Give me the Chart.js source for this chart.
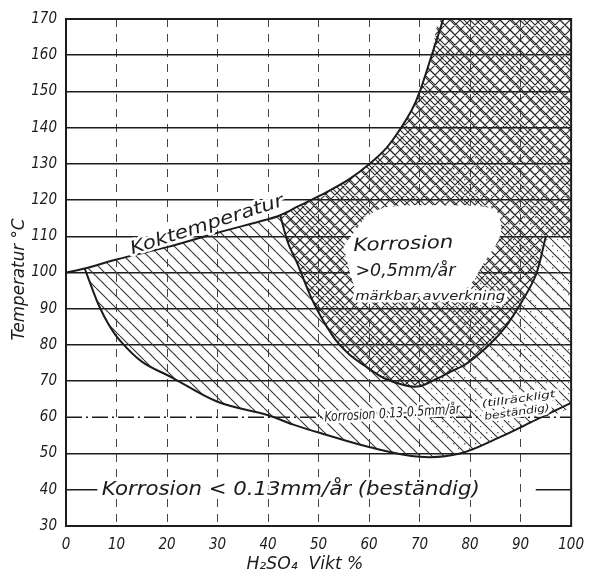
<!DOCTYPE html>
<html lang="sv">
<head>
<meta charset="UTF-8">
<title>Korrosion i svavelsyra</title>
<script src="https://cdn.jsdelivr.net/npm/chart.js"></script>
<style>
  html, body { margin: 0; padding: 0; background: #fff; }
</style>
</head>
<body>
<canvas id="korrChart" width="594" height="579"></canvas>
<script>
// boiling point curve (Koktemperatur), H2SO4 % vs deg C
const boilX = [0, 3.7, 10, 20, 30, 40, 42.4, 46, 51.6, 56, 60, 63.5, 66.2, 68.5, 70, 72.4, 74.7];
const boilY = [100, 101.1, 103.6, 107, 111, 114.7, 115.8, 118.3, 122.2, 125.7, 129.9, 134.5, 139.7, 145, 149.8, 160, 170];

// 0.13 mm/year boundary
const lowX = [3.7, 5.2, 6.6, 8.5, 10.5, 15, 21, 30, 40, 45, 50, 60, 70, 78, 86, 93, 100];
const lowY = [101.1, 95.5, 90.6, 85.5, 81.5, 75.4, 71, 64.3, 60.6, 58, 55.8, 51.8, 49.1, 50, 54.6, 59.3, 64];

// 0.5 mm/year boundary (the U)
const uX = [42.4, 44, 45.7, 49, 52.9, 56, 59.4, 63, 67.2, 70, 73, 76, 79.5, 84.2, 87, 89.3, 91.5, 93.2, 95];
const uY = [115.8, 108, 102.8, 91.7, 82.3, 77.5, 74, 70.8, 68.8, 68.6, 70.4, 72.5, 75, 80.6, 85, 89.8, 95, 100, 110];

// blank patch behind the "Korrosion > 0,5" text
const blobX = [59.4, 63.3, 75, 84.8, 86.1, 82.8, 78.9, 70, 60, 57.4, 54.9];
const blobY = [115.5, 118, 118.5, 117.4, 111, 102.8, 95.3, 93.5, 93.5, 95.3, 107.2];

// stippled part on the right
const dotX = [74, 100, 100, 93, 86, 78, 72];
const dotY = [131, 133, 64, 59.3, 54.6, 50, 56];

const xTickVals = [0, 10, 20, 30, 40, 50, 60, 70, 80, 90, 100];
const yTickVals = [30, 40, 50, 60, 70, 80, 90, 100, 110, 120, 130, 140, 150, 160, 170];

const FONT = '"DejaVu Sans Condensed", "DejaVu Sans", sans-serif';
const INK = '#1c1c1c';

const pts = (xs, ys) => xs.map((x, i) => ({ x: x, y: ys[i] }));

const canvas = document.getElementById('korrChart');
const ctx = canvas.getContext('2d');

function makeHatch(step, dirs, lw, color) {
    const c = document.createElement('canvas');
    c.width = step; c.height = step;
    const g = c.getContext('2d');
    g.strokeStyle = color;
    g.lineWidth = lw;
    g.beginPath();
    for (let k = -1; k <= 1; k++) {
        const o = k * step;
        if (dirs.indexOf('\\') >= 0) { g.moveTo(o, 0); g.lineTo(o + step, step); }
        if (dirs.indexOf('/') >= 0) { g.moveTo(o + step, 0); g.lineTo(o, step); }
    }
    g.stroke();
    return ctx.createPattern(c, 'repeat');
}

function makeDots(step, color) {
    const c = document.createElement('canvas');
    c.width = step; c.height = step;
    const g = c.getContext('2d');
    g.fillStyle = color;
    g.fillRect(2, 3, 1.4, 1.4);
    g.fillRect(7, 8, 1.2, 1.2);
    return ctx.createPattern(c, 'repeat');
}

const hatch = makeHatch(12, '\\', 1.1, '#333');
const cross = makeHatch(10, '\\/', 1.2, '#2a2a2a');
const dots = makeDots(11, '#666');

// polygons for the filled zones
const hatchPoly = pts(lowX, lowY).concat([{ x: 100, y: 170 }], pts(boilX, boilY).reverse());
const j = boilX.indexOf(uX[0]);
const crossPoly = pts(boilX.slice(j), boilY.slice(j))
    .concat([{ x: 100, y: 170 }, { x: 100, y: uY[uY.length - 1] }], pts(uX, uY).reverse());

const notes = [
    { text: 'Koktemperatur', x: 27.9, y: 113, rot: -17.8, size: 18, w: 160 },
    { text: 'Korrosion', x: 66.8, y: 107.7, rot: -2, size: 18, w: 100 },
    { text: '>0,5mm/år', x: 67.2, y: 100.3, rot: 0, size: 17, w: 100 },
    { text: 'märkbar avverkning', x: 72.1, y: 93.4, rot: 0, size: 12, w: 150 },
    { text: 'Korrosion 0.13-0.5mm/år', x: 64.6, y: 61.0, rot: -3.5, size: 14, w: 136 },
    { text: '(tillräckligt', x: 89.6, y: 64.9, rot: -8, size: 10, w: 74 },
    { text: 'beständig)', x: 89.3, y: 61.3, rot: -8, size: 10, w: 66 },
    { text: 'Korrosion < 0.13mm/år (beständig)', x: 44.5, y: 40, rot: 0, size: 20, w: 378 }
];

function drawText(c, txt, px, py, rot, size, w, halo) {
    c.save();
    c.translate(px, py);
    c.rotate(rot * Math.PI / 180);
    c.font = 'italic ' + size + 'px ' + FONT;
    const m = c.measureText(txt).width;
    if (w) c.scale(w / m, 1);
    c.textAlign = 'center';
    c.textBaseline = 'middle';
    if (halo) {
        c.lineJoin = 'round';
        c.strokeStyle = '#fff';
        c.lineWidth = 5;
        c.strokeText(txt, 0, 0);
    }
    c.fillStyle = INK;
    c.fillText(txt, 0, 0);
    c.restore();
}

const paperPlugin = {
    id: 'paper',
    beforeDatasetsDraw(chart) {
        const c = chart.ctx, xs = chart.scales.x, ys = chart.scales.y;
        c.save();
        c.strokeStyle = INK;
        c.lineWidth = 1.5;
        // dash-dot line at 60
        c.setLineDash([16, 4, 2, 4]);
        c.beginPath();
        c.moveTo(xs.getPixelForValue(0), ys.getPixelForValue(60));
        c.lineTo(xs.getPixelForValue(100), ys.getPixelForValue(60));
        c.stroke();
        // 40 line, broken by the label
        c.setLineDash([]);
        c.beginPath();
        c.moveTo(xs.getPixelForValue(0), ys.getPixelForValue(40));
        c.lineTo(xs.getPixelForValue(6.2), ys.getPixelForValue(40));
        c.moveTo(xs.getPixelForValue(93), ys.getPixelForValue(40));
        c.lineTo(xs.getPixelForValue(100), ys.getPixelForValue(40));
        c.stroke();
        c.restore();
    },
    afterDraw(chart) {
        const c = chart.ctx, a = chart.chartArea, xs = chart.scales.x, ys = chart.scales.y;
        notes.forEach(n => {
            drawText(c, n.text, xs.getPixelForValue(n.x), ys.getPixelForValue(n.y), n.rot, n.size, n.w, true);
        });
        c.save();
        c.strokeStyle = INK;
        c.lineWidth = 2;
        c.strokeRect(a.left, a.top, a.right - a.left, a.bottom - a.top);
        c.restore();
        // axis titles
        drawText(c, 'Temperatur °C', a.left - 46, (a.top + a.bottom) / 2 + 7, -90, 17, 122, false);
        drawText(c, 'H₂SO₄  Vikt %', xs.getPixelForValue(47.3), a.bottom + 39, 0, 17, 117, false);
    }
};

const chart = new Chart(ctx, {
    type: 'line',
    data: {
        datasets: [
            { data: pts(boilX, boilY), borderColor: INK, borderWidth: 2, tension: 0.35, fill: false, order: 0 },
            { data: pts(lowX, lowY), borderColor: INK, borderWidth: 2, tension: 0.35, fill: false, order: 1 },
            { data: pts(uX, uY), borderColor: INK, borderWidth: 2, tension: 0.35, fill: false, order: 2 },
            { data: pts(blobX, blobY), borderColor: 'transparent', borderWidth: 0, backgroundColor: '#fff', fill: 'shape', tension: 0.3, order: 3 },
            { data: pts(dotX, dotY), borderColor: 'transparent', borderWidth: 0, backgroundColor: dots, fill: 'shape', tension: 0.3, order: 4 },
            { data: crossPoly, borderColor: 'transparent', borderWidth: 0, backgroundColor: cross, fill: 'shape', tension: 0.3, order: 5 },
            { data: hatchPoly, borderColor: 'transparent', borderWidth: 0, backgroundColor: hatch, fill: 'shape', tension: 0.3, order: 6 }
        ]
    },
    options: {
        responsive: false,
        animation: false,
        events: [],
        elements: { point: { radius: 0 } },
        layout: { padding: { top: 19, right: 16, left: 0, bottom: 0 } },
        plugins: { legend: { display: false }, tooltip: { enabled: false } },
        scales: {
            x: {
                type: 'linear',
                min: 0,
                max: 100,
                afterBuildTicks: s => { s.ticks = xTickVals.map(v => ({ value: v })); },
                afterFit: s => { s.height = 53; },
                grid: { color: '#444', lineWidth: 1, drawTicks: false },
                border: { display: false, dash: [8, 7] },
                ticks: { color: INK, padding: 10, maxRotation: 0, font: { family: FONT, size: 15, style: 'italic' } }
            },
            y: {
                type: 'linear',
                min: 30,
                max: 170,
                afterBuildTicks: s => { s.ticks = yTickVals.map(v => ({ value: v })); },
                afterFit: s => { s.width = 66; },
                grid: {
                    color: c => (c.tick && (c.tick.value === 60 || c.tick.value === 40)) ? 'transparent' : INK,
                    lineWidth: 1.5,
                    drawTicks: false
                },
                border: { display: false },
                ticks: { color: INK, padding: 9, font: { family: FONT, size: 15, style: 'italic' } }
            }
        }
    },
    plugins: [paperPlugin]
});
</script>
</body>
</html>
